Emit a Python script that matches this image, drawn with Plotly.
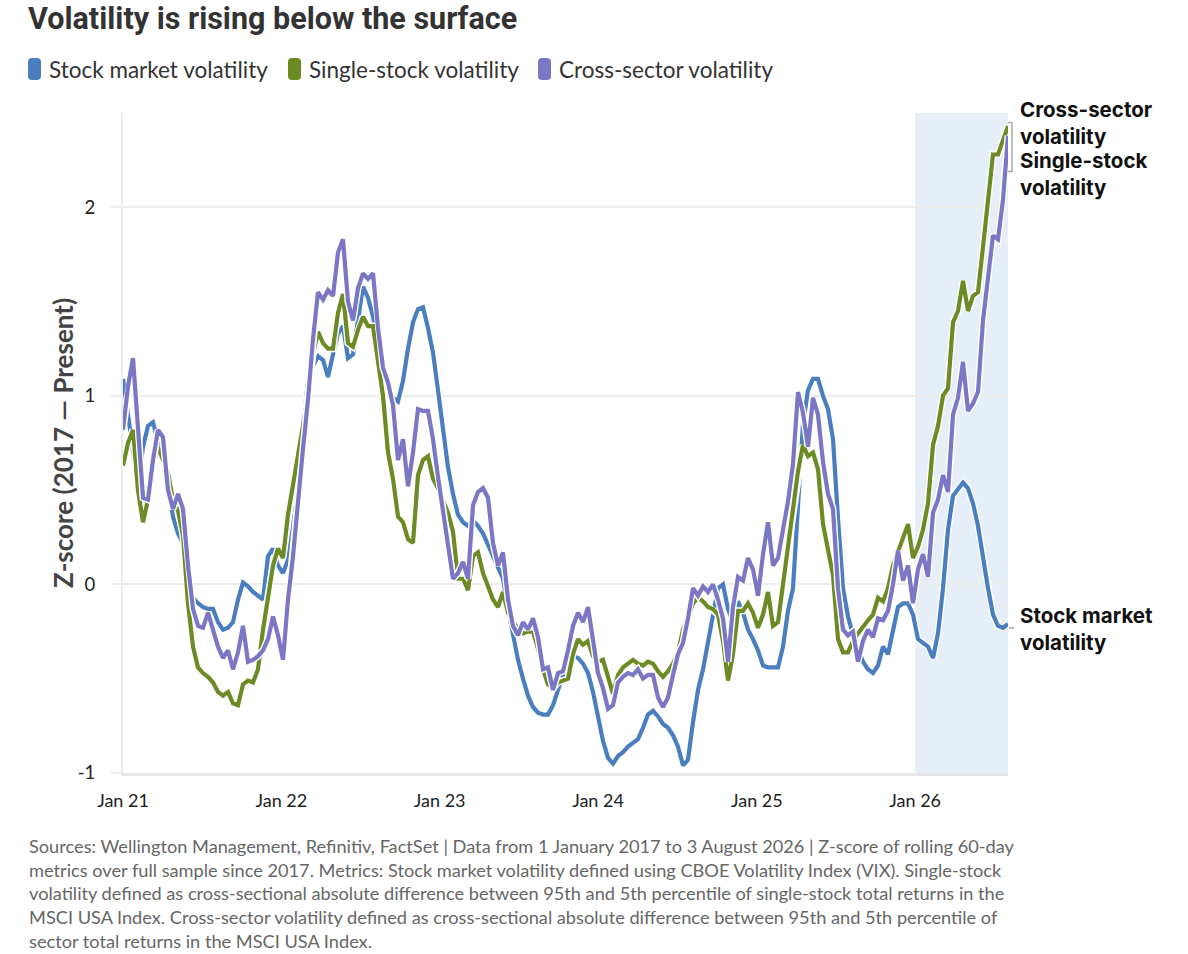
import pandas as pd
import plotly.graph_objects as go

START = "2021-01-01"
END = "2026-08-03"
SHADE_START = "2026-01-01"

# z-scores, evenly spaced from START to END (~11.5 days apart)
stock_market = [
    1.09, 0.90, 0.73, 0.52, 0.73, 0.84, 0.86, 0.75, 0.66, 0.52,
    0.36, 0.27, 0.22, 0.10, -0.07, -0.10, -0.12, -0.13, -0.13, -0.20,
    -0.24, -0.23, -0.20, -0.08, 0.01, -0.01, -0.04, -0.06, -0.08, 0.15,
    0.19, 0.10, 0.06, 0.13, 0.43, 0.63, 0.84, 1.07, 1.16, 1.21,
    1.19, 1.10, 1.22, 1.33, 1.37, 1.20, 1.22, 1.41, 1.58, 1.52,
    1.42, 1.28, 1.18, 1.04, 0.99, 0.97, 1.08, 1.25, 1.39, 1.46,
    1.47, 1.36, 1.23, 1.03, 0.82, 0.62, 0.48, 0.37, 0.33, 0.31,
    0.34, 0.31, 0.27, 0.21, 0.15, 0.09, 0.03, -0.13, -0.28, -0.40,
    -0.50, -0.59, -0.65, -0.68, -0.69, -0.69, -0.64, -0.56, -0.48, -0.42,
    -0.38, -0.39, -0.42, -0.47, -0.57, -0.70, -0.83, -0.92, -0.95, -0.91,
    -0.89, -0.86, -0.84, -0.82, -0.76, -0.69, -0.67, -0.70, -0.74, -0.76,
    -0.80, -0.86, -0.96, -0.93, -0.73, -0.56, -0.45, -0.31, -0.18, -0.02,
    0.00, -0.13, -0.20, -0.09, -0.15, -0.24, -0.29, -0.35, -0.43, -0.44,
    -0.44, -0.44, -0.33, -0.14, -0.02, 0.39, 0.85, 1.03, 1.09, 1.09,
    1.00, 0.93, 0.77, 0.35, -0.02, -0.17, -0.27, -0.34, -0.41, -0.45,
    -0.47, -0.43, -0.33, -0.37, -0.24, -0.12, -0.10, -0.10, -0.16, -0.29,
    -0.31, -0.33, -0.39, -0.26, -0.02, 0.29, 0.47, 0.51, 0.54, 0.51,
    0.43, 0.31, 0.14, -0.02, -0.16, -0.22, -0.23, -0.21,
]

single_stock = [
    0.63, 0.75, 0.82, 0.50, 0.33, 0.45, 0.63, 0.73, 0.66, 0.59,
    0.45, 0.39, 0.26, -0.10, -0.33, -0.44, -0.47, -0.49, -0.52, -0.57,
    -0.59, -0.57, -0.63, -0.64, -0.53, -0.51, -0.52, -0.45, -0.24, -0.06,
    0.10, 0.19, 0.14, 0.37, 0.52, 0.69, 0.83, 1.00, 1.22, 1.34,
    1.28, 1.25, 1.25, 1.44, 1.54, 1.28, 1.26, 1.35, 1.42, 1.37,
    1.37, 1.19, 1.00, 0.70, 0.56, 0.36, 0.33, 0.24, 0.22, 0.58,
    0.66, 0.68, 0.56, 0.51, 0.45, 0.38, 0.28, 0.03, 0.03, -0.03,
    0.15, 0.17, 0.06, -0.01, -0.08, -0.12, -0.04, -0.15, -0.20, -0.24,
    -0.26, -0.25, -0.25, -0.34, -0.45, -0.53, -0.55, -0.52, -0.51, -0.50,
    -0.37, -0.29, -0.32, -0.30, -0.38, -0.41, -0.40, -0.49, -0.58, -0.48,
    -0.44, -0.42, -0.40, -0.42, -0.43, -0.41, -0.42, -0.46, -0.49, -0.46,
    -0.42, -0.36, -0.24, -0.17, -0.10, -0.07, -0.09, -0.12, -0.13, -0.16,
    -0.30, -0.51, -0.37, -0.14, -0.14, -0.10, -0.15, -0.23, -0.16, -0.04,
    -0.22, -0.20, 0.00, 0.18, 0.39, 0.60, 0.74, 0.68, 0.70, 0.61,
    0.32, 0.18, 0.05, -0.29, -0.36, -0.36, -0.30, -0.26, -0.22, -0.19,
    -0.16, -0.07, -0.09, -0.02, 0.10, 0.17, 0.24, 0.32, 0.14, 0.20,
    0.29, 0.43, 0.74, 0.84, 1.00, 1.04, 1.39, 1.45, 1.61, 1.45,
    1.53, 1.55, 1.79, 2.02, 2.28, 2.28, 2.35, 2.43,
]

cross_sector = [
    0.82, 1.05, 1.20, 0.85, 0.46, 0.45, 0.66, 0.82, 0.78, 0.50,
    0.40, 0.48, 0.40, 0.10, -0.13, -0.22, -0.23, -0.15, -0.24, -0.33,
    -0.39, -0.35, -0.45, -0.36, -0.22, -0.41, -0.40, -0.38, -0.35, -0.29,
    -0.17, -0.27, -0.40, -0.08, 0.15, 0.45, 0.72, 0.98, 1.30, 1.55,
    1.51, 1.56, 1.53, 1.76, 1.83, 1.50, 1.40, 1.57, 1.65, 1.62,
    1.65, 1.36, 1.15, 1.07, 0.95, 0.66, 0.77, 0.52, 0.70, 0.93,
    0.92, 0.92, 0.77, 0.57, 0.38, 0.20, 0.03, 0.06, 0.12, 0.03,
    0.42, 0.49, 0.51, 0.46, 0.22, 0.10, 0.17, -0.08, -0.22, -0.27,
    -0.20, -0.24, -0.18, -0.28, -0.45, -0.44, -0.56, -0.47, -0.46, -0.35,
    -0.22, -0.15, -0.20, -0.12, -0.30, -0.47, -0.55, -0.66, -0.64, -0.52,
    -0.49, -0.47, -0.48, -0.45, -0.50, -0.48, -0.48, -0.60, -0.65, -0.60,
    -0.48, -0.37, -0.31, -0.18, -0.02, -0.06, -0.01, -0.04, 0.00, -0.08,
    -0.18, -0.41, -0.12, 0.04, 0.02, 0.14, 0.08, -0.06, 0.16, 0.33,
    0.10, 0.14, 0.29, 0.44, 0.64, 1.02, 0.91, 0.73, 0.99, 0.90,
    0.65, 0.48, 0.40, -0.02, -0.24, -0.27, -0.25, -0.41, -0.30, -0.24,
    -0.28, -0.18, -0.19, -0.14, 0.00, 0.18, 0.02, 0.10, -0.10, 0.08,
    0.16, 0.04, 0.38, 0.45, 0.58, 0.49, 0.90, 0.99, 1.18, 0.92,
    0.96, 1.02, 1.40, 1.64, 1.85, 1.83, 2.04, 2.38,
]

SERIES = [
    ("Stock market volatility", stock_market, "#4a7ebf"),
    ("Single-stock volatility", single_stock, "#6d8b25"),
    ("Cross-sector volatility", cross_sector, "#7b77c5"),
]

FOOTNOTE = (
    "Sources: Wellington Management, Refinitiv, FactSet | Data from 1 January 2017 to 3 August 2026 | Z-score of rolling 60-day<br>"
    "metrics over full sample since 2017. Metrics: Stock market volatility defined using CBOE Volatility Index (VIX). Single-stock<br>"
    "volatility defined as cross-sectional absolute difference between 95th and 5th percentile of single-stock total returns in the<br>"
    "MSCI USA Index. Cross-sector volatility defined as cross-sectional absolute difference between 95th and 5th percentile of<br>"
    "sector total returns in the MSCI USA Index."
)

W, H = 1188, 954
L, R, T, B = 123, 180, 113, 181
BODY = "Lato, 'Open Sans', sans-serif"
LABEL = "Inter, 'Noto Sans', sans-serif"


def px_x(px):
    # page pixel -> paper x
    return (px - L) / (W - L - R)


def px_y(py):
    # page pixel -> paper y
    return (H - B - py) / (H - T - B)


fig = go.Figure()

# white halo under each line, drawn in series order so purple sits on top
for name, vals, color in SERIES:
    dates = pd.date_range(START, END, periods=len(vals))
    fig.add_trace(go.Scatter(x=dates, y=vals, mode="lines", hoverinfo="skip",
                             line=dict(color="white", width=7), showlegend=False))
    fig.add_trace(go.Scatter(x=dates, y=vals, mode="lines", name=name,
                             line=dict(color=color, width=4.2), showlegend=False))

shapes = [
    dict(type="rect", xref="x", yref="paper", x0=SHADE_START, x1=END, y0=0, y1=1,
         fillcolor="#e6eef7", line_width=0, layer="between"),
    # bracket joining the two top labels
    dict(type="path", xref="paper", yref="y",
         path=f"M {px_x(1008)},2.45 L {px_x(1012)},2.45 L {px_x(1012)},2.19 L {px_x(1008)},2.19",
         line=dict(color="#aaaaaa", width=1.5)),
    dict(type="line", xref="paper", yref="y", x0=px_x(1009), x1=px_x(1014),
         y0=stock_market[-1] - 0.02, y1=stock_market[-1] - 0.02,
         line=dict(color="#aaaaaa", width=1.5)),
]

annotations = [
    dict(text="<b>Volatility is rising below the surface</b>", xref="paper", yref="paper",
         x=px_x(27), y=px_y(0), xanchor="left", yanchor="top", borderpad=0, showarrow=False,
         font=dict(family="Roboto, sans-serif", size=30.5, color="#333333")),
    dict(text="<b>Z-score (2017 — Present)</b>", xref="paper", yref="paper",
         x=px_x(45), y=0.5, textangle=-90, showarrow=False,
         font=dict(family=BODY, size=26, color="#444444")),
    dict(text=FOOTNOTE, xref="paper", yref="paper", x=px_x(27), y=px_y(833),
         xanchor="left", yanchor="top", align="left", showarrow=False,
         font=dict(family=BODY, size=18.2, color="#666666")),
]

# legend drawn by hand: tall rounded swatch + label
legend_pos = [(28, 48), (288, 308), (538, 558)]
for (sx, tx), (name, _, color) in zip(legend_pos, SERIES):
    x0, x1, y0, y1 = px_x(sx), px_x(sx + 13), px_y(80), px_y(58)
    r = px_x(sx + 4) - px_x(sx)
    ry = px_y(58) - px_y(62)
    shapes.append(dict(
        type="path", xref="paper", yref="paper", fillcolor=color, line_width=0,
        path=(f"M {x0 + r},{y1} L {x1 - r},{y1} Q {x1},{y1} {x1},{y1 - ry} "
              f"L {x1},{y0 + ry} Q {x1},{y0} {x1 - r},{y0} L {x0 + r},{y0} "
              f"Q {x0},{y0} {x0},{y0 + ry} L {x0},{y1 - ry} Q {x0},{y1} {x0 + r},{y1} Z"),
    ))
    annotations.append(dict(text=name, xref="paper", yref="paper", x=px_x(tx - 1), y=px_y(69),
                            xanchor="left", yanchor="middle", showarrow=False,
                            font=dict(family=BODY, size=22.5, color="#333333")))

# end-of-line labels
end_labels = [("Cross-sector<br>volatility", 123), ("Single-stock<br>volatility", 174),
              ("Stock market<br>volatility", 629)]
for text, py in end_labels:
    annotations.append(dict(text=f"<b>{text}</b>", xref="paper", yref="paper", align="left",
                            x=px_x(1018), y=px_y(py), xanchor="left", yanchor="middle",
                            showarrow=False, font=dict(family=LABEL, size=20.5, color="#111111")))

fig.update_layout(
    width=W, height=H,
    margin=dict(l=L, r=R, t=T, b=B),
    paper_bgcolor="white", plot_bgcolor="white",
    showlegend=False,
    shapes=shapes,
    annotations=annotations,
    font=dict(family=BODY, color="#222222"),
)
fig.update_xaxes(
    range=[START, END], tick0=START, dtick="M12", tickformat="%b %y",
    showgrid=False, zeroline=False,
    showline=True, linecolor="#e8e8e8", linewidth=3,
    ticks="outside", ticklen=9, tickcolor="rgba(0,0,0,0)",
    tickfont=dict(family=BODY, size=18, color="#222222"),
)
fig.update_yaxes(
    range=[-1, 2.5], tickvals=[-1, 0, 1, 2], ticktext=["-1", "0", "1", "2"],
    showgrid=True, gridcolor="#ececec", gridwidth=2, zeroline=False,
    showline=True, linecolor="#ececec", linewidth=2,
    ticks="outside", ticklen=10, tickcolor="#ececec", tickwidth=2,
    ticklabelstandoff=12,
    tickfont=dict(family=BODY, size=18.5, color="#222222"),
)

# the page has a default 8px body margin; drop it so the figure sits at the corner
fig.write_html("out.html", config={"displayModeBar": False},
               post_script="document.body.style.margin='0';")
